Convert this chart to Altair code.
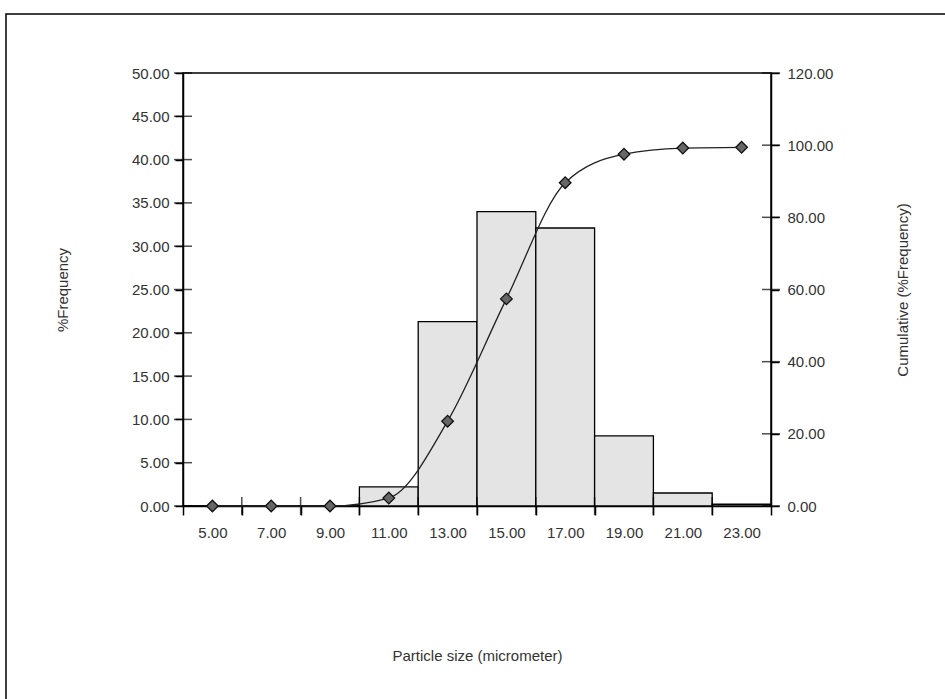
import altair as alt
import pandas as pd

sizes = ["5.00", "7.00", "9.00", "11.00", "13.00", "15.00", "17.00", "19.00", "21.00", "23.00"]
freq = [0.0, 0.0, 0.0, 2.2, 21.3, 34.0, 32.1, 8.1, 1.5, 0.2]
cum = [0.0, 0.0, 0.0, 2.2, 23.5, 57.4, 89.6, 97.5, 99.2, 99.4]
left_ticks = [0, 5, 10, 15, 20, 25, 30, 35, 40, 45, 50]
right_ticks = [0, 20, 40, 60, 80, 100, 120]

df = pd.DataFrame({"size": sizes, "freq": freq, "cum": cum})
lt_df = pd.DataFrame({"freq": left_ticks})
rt_df = pd.DataFrame({"cum": right_ticks})
xt_df = pd.DataFrame({"size": sizes[1:]})

FONT = "Liberation Sans"
TXT = "#333333"

xscale = alt.Scale(paddingInner=0, paddingOuter=0, domain=sizes)

xenc = alt.X(
    "size:N",
    sort=sizes,
    scale=xscale,
    axis=alt.Axis(
        title="Particle size (micrometer)",
        labelAngle=0,
        tickBand="extent",
        tickSize=9,
        labelPadding=10,
        titlePadding=108,
        domainColor="black",
        tickColor="black",
        tickWidth=1.5,
        domainWidth=1.5,
    ),
)

left_y = alt.Y(
    "freq:Q",
    scale=alt.Scale(domain=[0, 50], nice=False),
    axis=alt.Axis(
        title="%Frequency",
        values=left_ticks,
        format=".2f",
        orient="left",
        tickSize=8,
        labelPadding=6,
        titlePadding=61,
        grid=False,
        domainColor="black",
        tickColor="black",
        tickWidth=1.5,
        domainWidth=1.5,
    ),
)

bars = alt.Chart(df).mark_bar(
    fill="#e4e4e4", stroke="black", strokeWidth=1.3
).encode(x=xenc, y=left_y)

lticks = alt.Chart(lt_df).mark_tick(
    color="black", thickness=1.5, size=18, orient="horizontal"
).encode(y=alt.Y("freq:Q"), x=alt.value(0))

xticks = alt.Chart(xt_df).mark_tick(
    color="black", thickness=1.5, size=18, orient="vertical"
).encode(x=alt.X("size:N", bandPosition=0), y=alt.value(433))

cum_y = alt.Y(
    "cum:Q",
    scale=alt.Scale(domain=[0, 120], nice=False),
    axis=alt.Axis(
        title="Cumulative (%Frequency)",
        values=right_ticks,
        format=".2f",
        orient="right",
        tickSize=8,
        labelPadding=8,
        titlePadding=78,
        titleAngle=270,
        grid=False,
        domainColor="black",
        tickColor="black",
        tickWidth=1.5,
        domainWidth=1.5,
    ),
)

line = alt.Chart(df).mark_line(
    color="#222222", strokeWidth=1.3, interpolate="monotone"
).encode(x=xenc, y=cum_y)

points = alt.Chart(df).mark_point(
    shape="diamond", filled=True, fill="#666666", stroke="#111111",
    strokeWidth=1.3, size=135, opacity=1
).encode(x=xenc, y="cum:Q")

rticks = alt.Chart(rt_df).mark_tick(
    color="black", thickness=1.5, size=18, orient="horizontal"
).encode(y=alt.Y("cum:Q"), x=alt.value(588))

frame = alt.Chart(df.head(1)).mark_rect(
    fill="white", fillOpacity=0, stroke="black", strokeWidth=1.5
).encode(
    x=alt.value(-177), x2=alt.value(800),
    y=alt.value(-59), y2=alt.value(700),
)

chart = alt.layer(
    alt.layer(bars, lticks, xticks),
    alt.layer(line, points, rticks),
    frame,
).resolve_scale(y="independent").properties(
    width=588,
    height=433,
    padding={"left": 183, "top": 73, "right": 174, "bottom": 193},
    autosize=alt.AutoSizeParams(type="none"),
).configure(
    background="white",
    view=alt.ViewConfig(stroke="black", strokeWidth=1.5),
    axis=alt.AxisConfig(
        labelFont=FONT, titleFont=FONT, labelFontSize=15, titleFontSize=15,
        labelColor=TXT, titleColor=TXT, titleFontWeight="normal",
    ),
)

chart.save("out.html", embed_options={"renderer": "svg", "actions": False})
